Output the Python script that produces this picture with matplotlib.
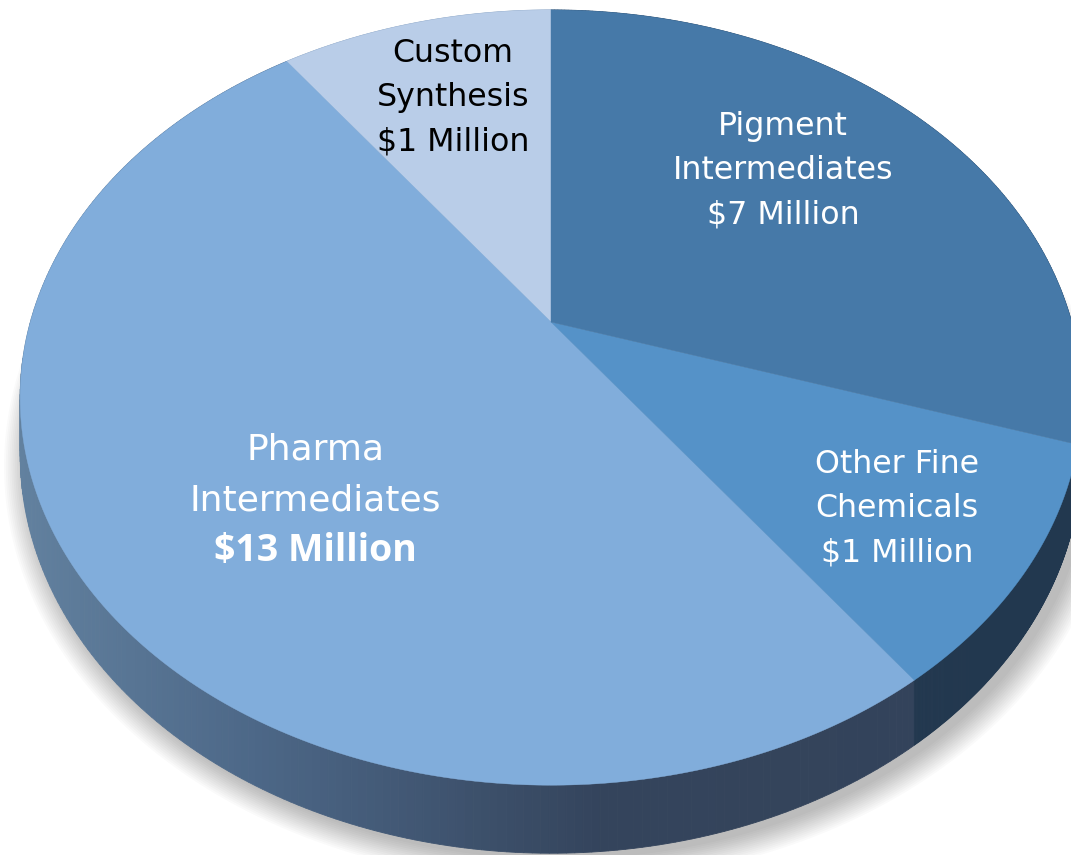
import numpy as np
import matplotlib
matplotlib.use("Agg")
import matplotlib.pyplot as plt
from matplotlib.patches import Polygon
from matplotlib.colors import to_rgb

# ---- data ----
categories = ["Custom Synthesis", "Pharma Intermediates", "Other Fine Chemicals", "Pigment Intermediates"]
shares = [10, 50, 10, 30]          # visual share of the pie (%)
value_labels = ["$1 Million", "$13 Million", "$1 Million", "$7 Million"]
name_lines = [["Custom", "Synthesis"], ["Pharma", "Intermediates"],
              ["Other Fine", "Chemicals"], ["Pigment", "Intermediates"]]

top_colors = ["#B9CDE8", "#81ADDB", "#5592C8", "#4679A8"]
side_colors = ["#8da6c4", None, "#22384f", "#2b4a6a"]
text_colors = ["black", "white", "white", "white"]

# ---- projection of a tilted disc ----
W, H = 1071, 855
cx, cy = 551, 322
z0, A, B, C = 5.13, 2671.0, 1913.0, 281.0


def proj(t, z=0.0):
    X, Y = np.cos(t), np.sin(t)
    d = z0 + Y
    return cx + A * X / d, cy - (B * Y + C * z) / d


fig = plt.figure(figsize=(W / 100, H / 100), dpi=100)
ax = fig.add_axes([0, 0, 1, 1])
ax.set_xlim(0, W)
ax.set_ylim(H, 0)
ax.axis("off")

# soft shadow (offset to the lower right)
tt = np.linspace(0, 2 * np.pi, 400)
bx, by = proj(tt, -1.0)
for k in range(14):
    s = 1 + 0.0035 * k
    ax.add_patch(Polygon(np.column_stack([cx + (bx - cx) * s + 8, cy + (by - cy) * s + 6]),
                         closed=True, fc="#000000", ec="none", alpha=0.02, zorder=0))

# slice angles, counterclockwise from 12 o'clock
fr = np.array(shares, float) / np.sum(shares)
starts = np.pi / 2 + 2 * np.pi * np.concatenate([[0], np.cumsum(fr)[:-1]])
ends = starts + 2 * np.pi * fr

grad_x = [20, 250, 600, 1071]
grad_c = [to_rgb("#62819f"), to_rgb("#4d6888"), to_rgb("#34445c"), to_rgb("#33435a")]


def pharma_side(x):
    return tuple(np.interp(x, grad_x, [c[i] for c in grad_c]) for i in range(3))


# side walls
for i in range(len(shares)):
    t = np.linspace(starts[i], ends[i], 240)
    x0, y0 = proj(t, 0.0)
    x1, y1 = proj(t, -1.0)
    for j in range(len(t) - 1):
        quad = [(x0[j], y0[j]), (x0[j + 1], y0[j + 1]), (x1[j + 1], y1[j + 1]), (x1[j], y1[j])]
        col = pharma_side((x0[j] + x0[j + 1]) / 2) if side_colors[i] is None else side_colors[i]
        ax.add_patch(Polygon(quad, closed=True, fc=col, ec=col, lw=0.6, zorder=1))

# top faces
for i in range(len(shares)):
    t = np.linspace(starts[i], ends[i], 300)
    x0, y0 = proj(t, 0.0)
    pts = np.vstack([[cx, cy], np.column_stack([x0, y0])])
    ax.add_patch(Polygon(pts, closed=True, fc=top_colors[i], ec=top_colors[i], lw=0.3, zorder=2))

# labels
label_pos = [(453, 53, 44.5, 22.8), (315, 449, 51, 26.0), (897, 464, 44.5, 22.8), (783, 126, 44.5, 22.8)]
for i in range(len(shares)):
    x, y, step, fs = label_pos[i]
    lines = name_lines[i] + [value_labels[i]]
    for k, line in enumerate(lines):
        bold_val = (i == 1 and k == 2)
        ax.text(x, y + k * step, line, ha="center", va="center",
                fontsize=fs * (1.04 if bold_val else 1.0), color=text_colors[i],
                family="Open Sans" if bold_val else "DejaVu Sans",
                fontweight="bold" if bold_val else "normal", zorder=5)

fig.savefig("out.png", dpi=100)
